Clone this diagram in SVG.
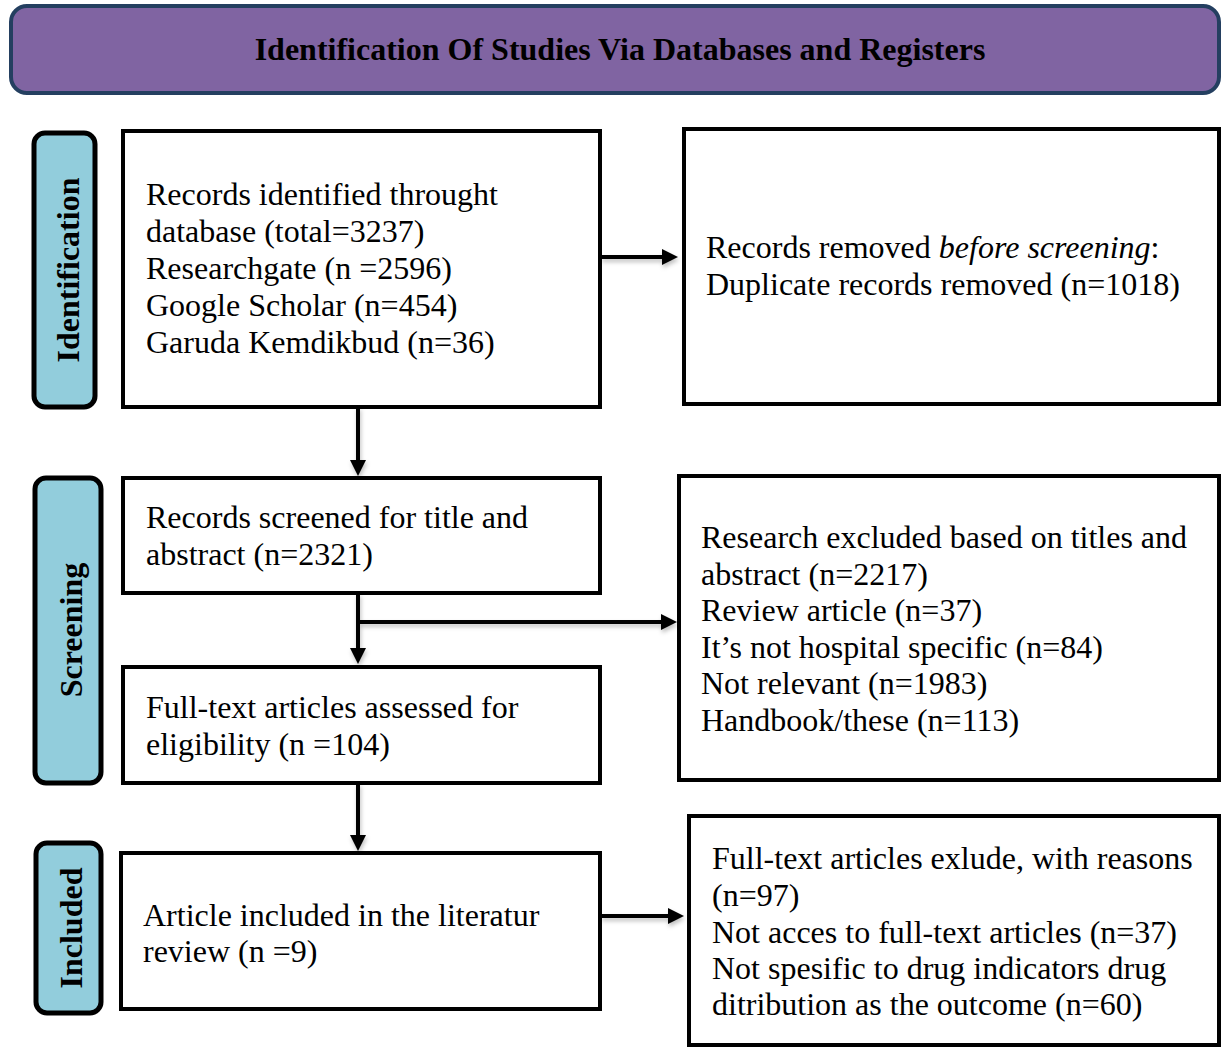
<svg xmlns="http://www.w3.org/2000/svg" width="1222" height="1048" viewBox="0 0 1222 1048">
<defs>
<filter id="sh" x="-10%" y="-10%" width="120%" height="140%">
<feDropShadow dx="1" dy="3" stdDeviation="2" flood-color="#000" flood-opacity="0.25"/>
</filter>
</defs>
<style>
.box{fill:#fff;stroke:#000;stroke-width:4}
.side{fill:#92CDDC;stroke:#000;stroke-width:5}
.t{font-family:"Liberation Serif","Times New Roman",serif;font-size:32px;fill:#000}
.b{font-family:"Liberation Serif","Times New Roman",serif;font-size:32px;font-weight:bold;fill:#000}
.c{fill:none;stroke:#000;stroke-width:4}
.ah{fill:#000;stroke:none}
</style>
<rect width="1222" height="1048" fill="#fff"/>
<g id="header">
<rect x="11" y="6" width="1208" height="87" rx="16" fill="#8064A2" stroke="#243F60" stroke-width="4"/>
<text class="b" x="620" y="60" text-anchor="middle">Identification Of Studies Via Databases and Registers</text>
</g>
<g id="side-identification">
<rect class="side" x="34" y="133" width="61" height="274" rx="11"/>
<text class="b" transform="translate(79,270) rotate(-90)" text-anchor="middle">Identification</text>
</g>
<g id="side-screening">
<rect class="side" x="35" y="478" width="66" height="305" rx="11"/>
<text class="b" transform="translate(82,630) rotate(-90)" text-anchor="middle">Screening</text>
</g>
<g id="side-included">
<rect class="side" x="36" y="843" width="65" height="170" rx="11"/>
<text class="b" transform="translate(82,928) rotate(-90)" text-anchor="middle">Included</text>
</g>
<g id="connectors" filter="url(#sh)">
<line class="c" x1="601" y1="257" x2="664" y2="257"/>
<polygon class="ah" points="662,249 678,257 662,265"/>
<line class="c" x1="358" y1="407" x2="358" y2="462"/>
<polygon class="ah" points="350,460 358,476 366,460"/>
<line class="c" x1="358" y1="593" x2="358" y2="650"/>
<polygon class="ah" points="350,648 358,664 366,648"/>
<line class="c" x1="356" y1="622" x2="663" y2="622"/>
<polygon class="ah" points="661,614 677,622 661,630"/>
<line class="c" x1="358" y1="783" x2="358" y2="837"/>
<polygon class="ah" points="350,835 358,851 366,835"/>
<line class="c" x1="601" y1="916" x2="670" y2="916"/>
<polygon class="ah" points="668,908 684,916 668,924"/>
</g>
<g id="n-identified">
<rect class="box" x="123" y="131" width="477" height="276"/>
<text class="t" x="146" y="205">Records identified throught</text>
<text class="t" x="146" y="242">database (total=3237)</text>
<text class="t" x="146" y="279">Researchgate (n =2596)</text>
<text class="t" x="146" y="316">Google Scholar (n=454)</text>
<text class="t" x="146" y="353">Garuda Kemdikbud (n=36)</text>
</g>
<g id="n-removed">
<rect class="box" x="684" y="129" width="535" height="275"/>
<text class="t" x="706" y="258">Records removed <tspan font-style="italic">before screening</tspan>:</text>
<text class="t" x="706" y="295">Duplicate records removed (n=1018)</text>
</g>
<g id="n-screened">
<rect class="box" x="123" y="478" width="477" height="115"/>
<text class="t" x="146" y="528">Records screened for title and</text>
<text class="t" x="146" y="565">abstract (n=2321)</text>
</g>
<g id="n-excluded">
<rect class="box" x="679" y="476" width="540" height="304"/>
<text class="t" x="701" y="548">Research excluded based on titles and</text>
<text class="t" x="701" y="585">abstract (n=2217)</text>
<text class="t" x="701" y="621">Review article (n=37)</text>
<text class="t" x="701" y="658">It’s not hospital specific (n=84)</text>
<text class="t" x="701" y="694">Not relevant (n=1983)</text>
<text class="t" x="701" y="731">Handbook/these (n=113)</text>
</g>
<g id="n-fulltext">
<rect class="box" x="123" y="667" width="477" height="116"/>
<text class="t" x="146" y="718">Full-text articles assessed for</text>
<text class="t" x="146" y="755">eligibility (n =104)</text>
</g>
<g id="n-included">
<rect class="box" x="121" y="853" width="479" height="156"/>
<text class="t" x="143" y="926">Article included in the literatur</text>
<text class="t" x="143" y="962">review (n =9)</text>
</g>
<g id="n-fulltext-excluded">
<rect class="box" x="689" y="816" width="530" height="229"/>
<text class="t" x="712" y="869">Full-text articles exlude, with reasons</text>
<text class="t" x="712" y="906">(n=97)</text>
<text class="t" x="712" y="943">Not acces to full-text articles (n=37)</text>
<text class="t" x="712" y="979">Not spesific to drug indicators drug</text>
<text class="t" x="712" y="1015">ditribution as the outcome (n=60)</text>
</g>
</svg>
